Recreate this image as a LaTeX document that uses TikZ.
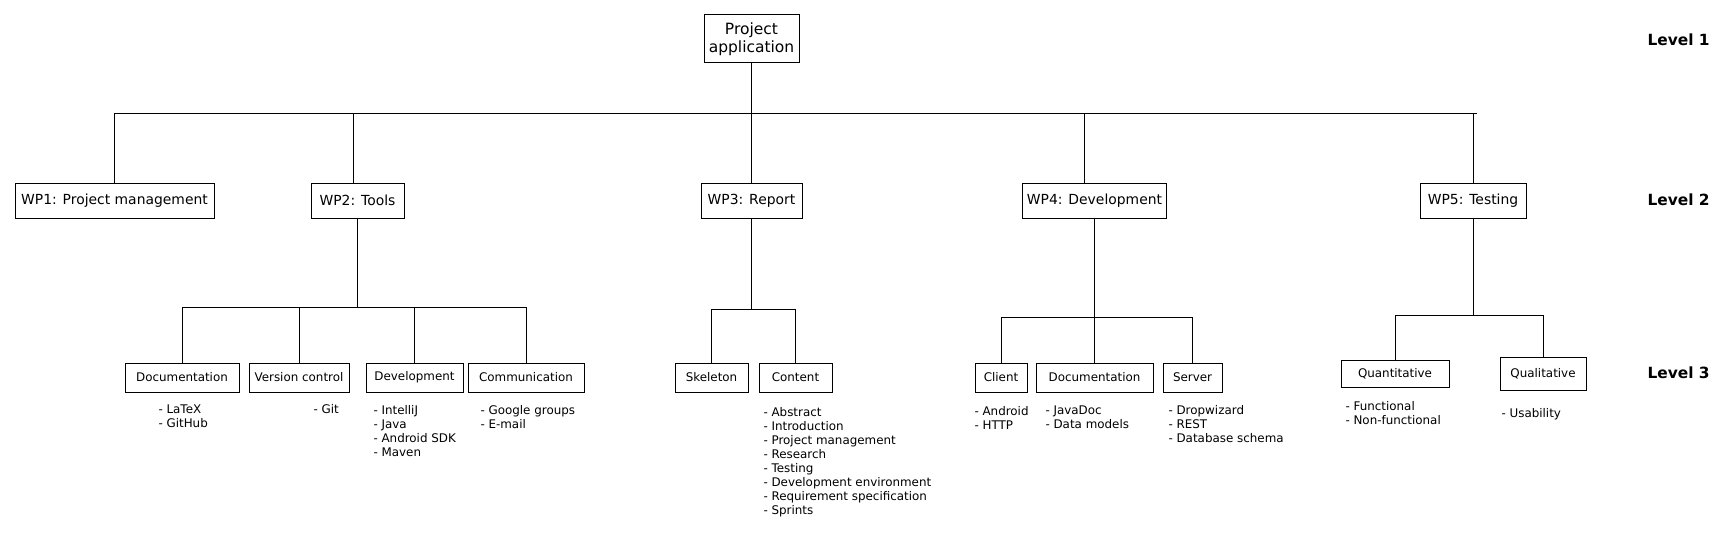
\documentclass[tikz,border=0pt]{standalone}
\usepackage{fontspec}
\setmainfont{DejaVu Sans}

\tikzset{
  box/.style={draw, inner sep=0pt, align=center},
  rootbox/.style={box, minimum width=95pt, minimum height=48pt, font=\fontsize{15.5}{18}\selectfont},
  wpbox/.style={box, minimum height=35pt, font=\fontsize{13.9}{16}\selectfont},
  taskbox/.style={box, minimum height=29pt, font=\fontsize{11.9}{14}\selectfont},
  itemlist/.style={anchor=north west, inner sep=0pt, align=left, font=\fontsize{11.9}{14}\selectfont},
  levellabel/.style={anchor=west, inner sep=0pt, font=\fontsize{15.4}{18}\selectfont\bfseries}
}

\begin{document}
\begin{tikzpicture}[x=1pt, y=-1pt, line width=1pt]

\useasboundingbox (0,0) rectangle (1728,535);

% Level 1
\node[rootbox] (root) at (751.5,39) {Project\\application};

% Level 2
\node[wpbox, minimum width=199pt] (wp1) at (114.5,200.5) {WP1: Project management};
\node[wpbox, minimum width=93pt]  (wp2) at (357.5,200.5) {WP2: Tools};
\node[wpbox, minimum width=101pt] (wp3) at (751.5,200.5) {WP3: Report};
\node[wpbox, minimum width=144pt] (wp4) at (1094.5,200.5) {WP4: Development};
\node[wpbox, minimum width=106pt] (wp5) at (1473,200.5) {WP5: Testing};

% Level 3
\node[taskbox, minimum width=114pt] (t21) at (182,377.5) {Documentation};
\node[taskbox, minimum width=100pt] (t22) at (299,377.5) {Version control};
\node[taskbox, minimum width=97pt]  (t23) at (414.5,377.5) {Development};
\node[taskbox, minimum width=116pt] (t24) at (526,377.5) {Communication};

\node[taskbox, minimum width=73pt] (t31) at (711.5,377.5) {Skeleton};
\node[taskbox, minimum width=73pt] (t32) at (795.5,377.5) {Content};

\node[taskbox, minimum width=52pt]  (t41) at (1001,377.5) {Client};
\node[taskbox, minimum width=117pt] (t42) at (1094.5,377.5) {Documentation};
\node[taskbox, minimum width=59pt]  (t43) at (1192.5,377.5) {Server};

\node[taskbox, minimum width=108pt, minimum height=27pt] (t51) at (1395,373.5) {Quantitative};
\node[taskbox, minimum width=86pt, minimum height=33pt]  (t52) at (1543,373.5) {Qualitative};

% Item lists
\node[itemlist] (l21) at (158,404.5)  {- LaTeX\\- GitHub};
\node[itemlist] (l22) at (313,403.5)  {- Git};
\node[itemlist] (l23) at (373,404.5)  {- IntelliJ\\- Java\\- Android SDK\\- Maven};
\node[itemlist] (l24) at (480,404.5)  {- Google groups\\- E-mail};
\node[itemlist] (l32) at (763,406.5)  {- Abstract\\- Introduction\\- Project management\\- Research\\- Testing\\- Development environment\\- Requirement specification\\- Sprints};
\node[itemlist] (l41) at (974,405.5)  {- Android\\- HTTP};
\node[itemlist] (l42) at (1045,405.5) {- JavaDoc\\- Data models};
\node[itemlist] (l43) at (1168,404.5) {- Dropwizard\\- REST\\- Database schema};
\node[itemlist] (l51) at (1345,400.5) {- Functional\\- Non-functional};
\node[itemlist] (l52) at (1501,407.5) {- Usability};

% Level labels
\node[levellabel] (lev1) at (1647,40)  {Level 1};
\node[levellabel] (lev2) at (1647,200) {Level 2};
\node[levellabel] (lev3) at (1647,373) {Level 3};

% Bars
\coordinate (bar1) at (0,113);
\coordinate (bar2) at (0,307);
\coordinate (bar3) at (0,309);
\coordinate (bar4) at (0,317);
\coordinate (bar5) at (0,315);

% Level 1 to level 2
\draw (root.south) -- (wp3.north);
\draw (wp1.north) -- (wp1 |- bar1) -- ([xshift=4pt]wp5 |- bar1);
\draw (wp5.north) -- (wp5 |- bar1);
\draw ([xshift=-4.5pt]wp2.north) -- ([xshift=-4.5pt]wp2 |- bar1);
\draw ([xshift=-10pt]wp4.north) -- ([xshift=-10pt]wp4 |- bar1);

% Level 2 to level 3
\draw (wp2.south) -- (wp2 |- bar2);
\draw (t21.north) -- (t21 |- bar2) -- (t24 |- bar2) -- (t24.north);
\foreach \t in {t22,t23}
{
     \draw (\t.north) -- (\t |- bar2);
}

\draw (wp3.south) -- (wp3 |- bar3);
\draw (t31.north) -- (t31 |- bar3) -- (t32 |- bar3) -- (t32.north);

\draw (wp4.south) -- (t42.north);
\draw (t41.north) -- (t41 |- bar4) -- (t43 |- bar4) -- (t43.north);

\draw (wp5.south) -- (wp5 |- bar5);
\draw (t51.north) -- (t51 |- bar5) -- (t52 |- bar5) -- (t52.north);

\end{tikzpicture}
\end{document}
